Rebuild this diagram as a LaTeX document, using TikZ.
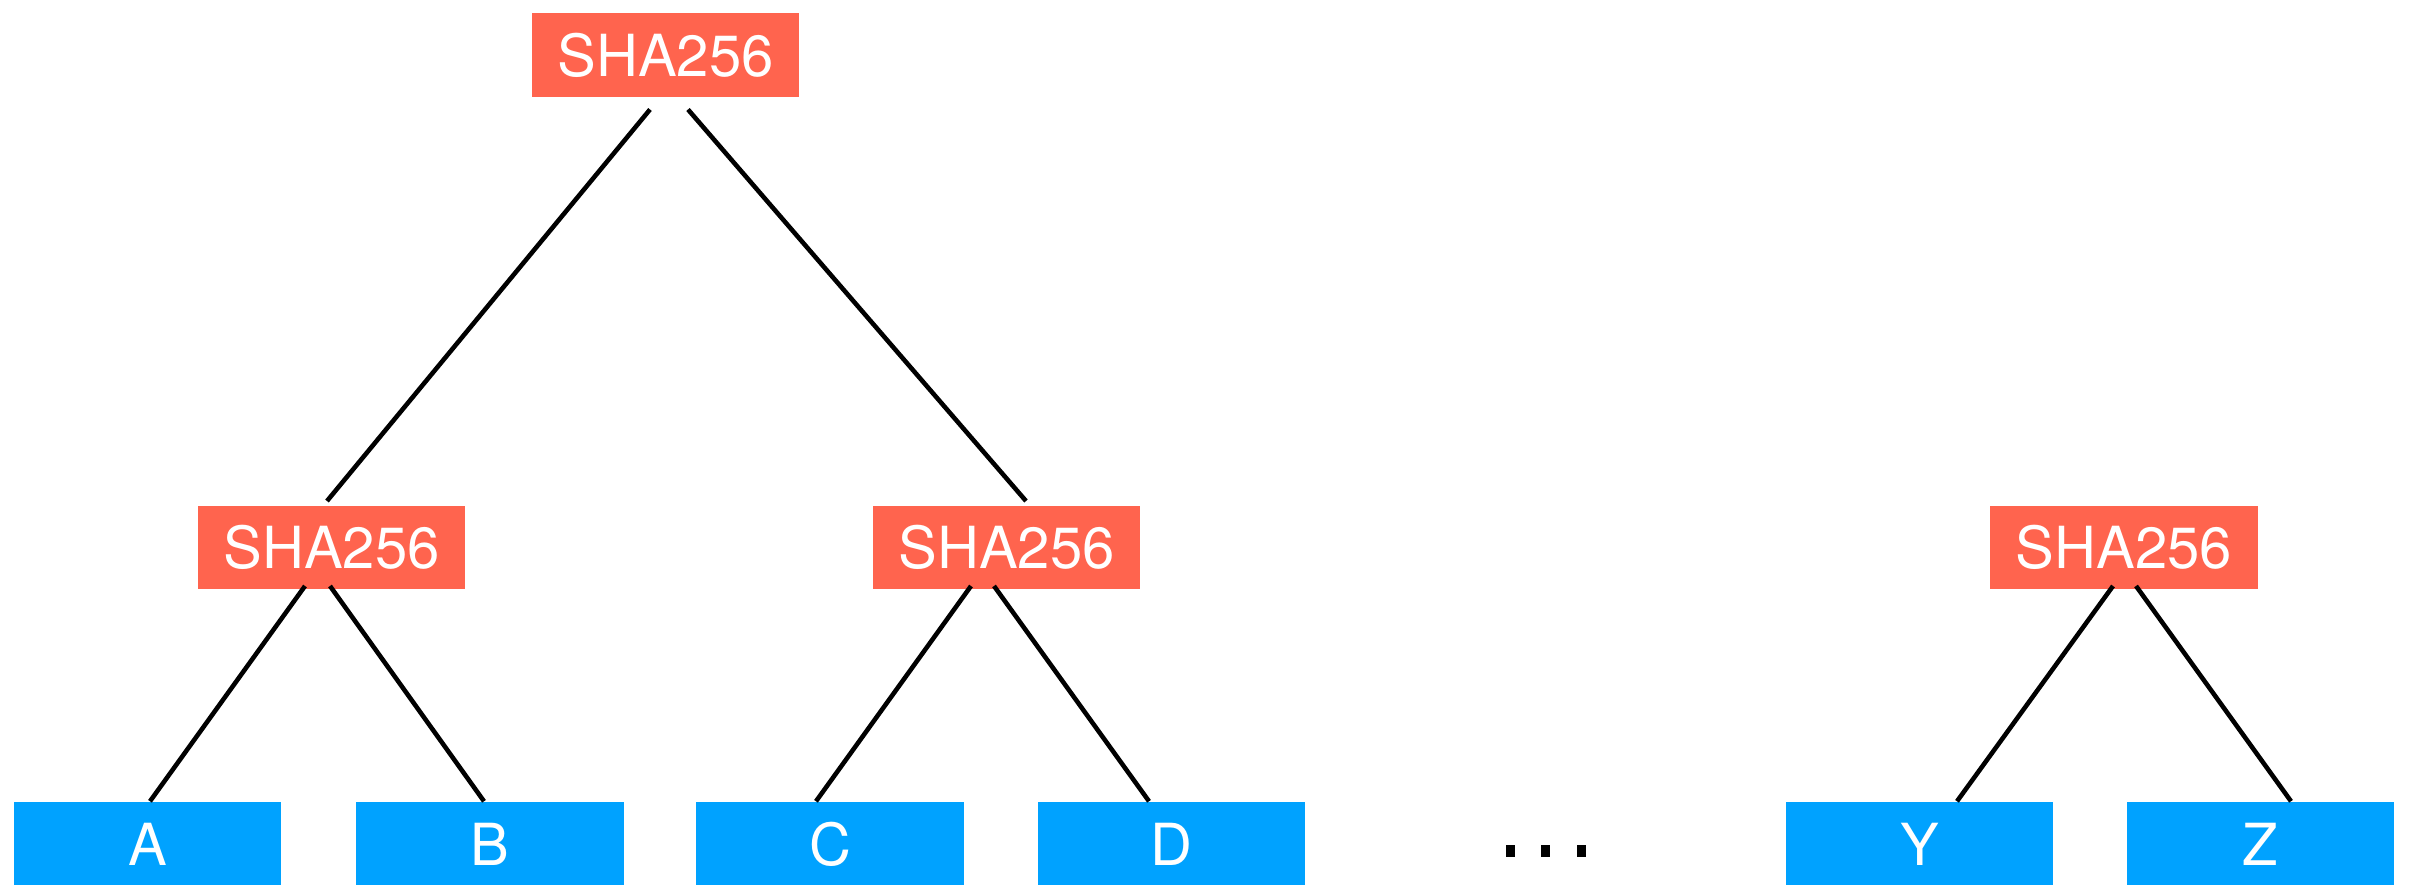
\documentclass[tikz,border=0pt]{standalone}
\usepackage{fontspec}
\setmainfont{TeX Gyre Heros}
\usetikzlibrary{calc}
\definecolor{hashred}{HTML}{FF644E}
\definecolor{leafblue}{HTML}{00A2FF}
\begin{document}
\begin{tikzpicture}[x=0.01cm,y=-0.01cm,
  box/.style={rectangle, inner sep=0pt, minimum width=2.67cm, text=white,
    font=\fontsize{16.5pt}{20pt}\selectfont},
  hashbox/.style={box, fill=hashred, minimum height=0.835cm},
  leafbox/.style={box, fill=leafblue, minimum height=0.84cm},
  edge/.style={line width=1.3pt, black}]
\useasboundingbox (0,0) rectangle (2409,884);

% hash nodes
\node[hashbox] (top)  at (665.5,55)   {SHA256};
\node[hashbox] (midL) at (331.5,547.5) {SHA256};
\node[hashbox] (midC) at (1006.5,547.5) {SHA256};
\node[hashbox] (midR) at (2124,547.5) {SHA256};

% data blocks
\node[leafbox] (A) at (147.5,844) {A};
\node[leafbox] (B) at (490,844)   {B};
\node[leafbox] (C) at (830,844)   {C};
\node[leafbox] (D) at (1171.5,844) {D};
\node[leafbox] (Y) at (1919.5,844) {Y};
\node[leafbox] (Z) at (2260.5,844) {Z};

% tree edges
\draw[edge] ($(top.south)+(-15.5,12)$) -- ($(midL.north)+(-4.5,-4)$);
\draw[edge] ($(top.south)+(22.5,12)$)  -- ($(midC.north)+(19.5,-4)$);
\draw[edge] ($(midL.south)+(-26.5,-4)$) -- ($(A.north)+(2.5,0)$);
\draw[edge] ($(midL.south)+(-1.5,-4)$)  -- ($(B.north)+(-6,0)$);
\draw[edge] ($(midC.south)+(-35.5,-4)$) -- ($(C.north)+(-14,0)$);
\draw[edge] ($(midC.south)+(-12.5,-4)$) -- ($(D.north)+(-22.5,0)$);
\draw[edge] ($(midR.south)+(-11,-4)$)   -- ($(Y.north)+(37.5,0)$);
\draw[edge] ($(midR.south)+(12,-4)$)    -- ($(Z.north)+(30.5,0)$);

% ellipsis between the blocks
\fill (1506,845) rectangle (1515,857);
\fill (1541,845) rectangle (1550,857);
\fill (1577,845) rectangle (1586,857);
\end{tikzpicture}
\end{document}
